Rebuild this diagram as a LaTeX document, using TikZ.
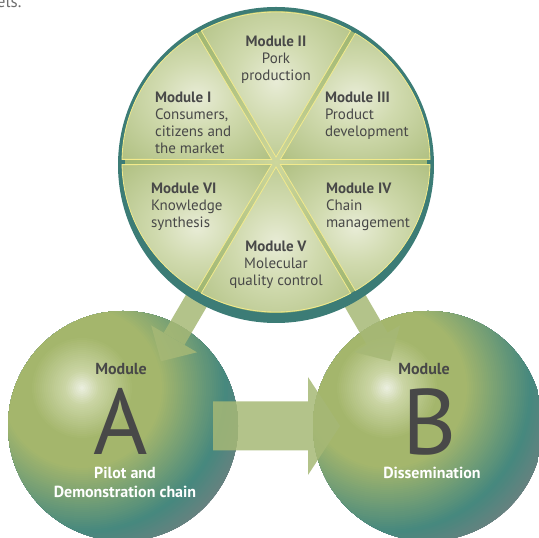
\documentclass[tikz,border=0pt]{standalone}
\usepackage{fontspec}
\setmainfont{PT Sans}
\usetikzlibrary{arrows.meta,calc}

\definecolor{rimteal}{RGB}{60,124,118}
\definecolor{rimmid}{RGB}{92,142,112}
\definecolor{diskgreen}{RGB}{204,214,156}
\definecolor{diskmid}{RGB}{150,176,106}
\definecolor{seglight}{RGB}{232,236,214}
\definecolor{segsoft}{RGB}{208,218,174}
\definecolor{segdark}{RGB}{166,184,116}
\definecolor{segline}{RGB}{242,234,140}
\definecolor{sphlight}{RGB}{238,241,228}
\definecolor{sphsoft}{RGB}{202,213,164}
\definecolor{sphgreen}{RGB}{164,182,108}
\definecolor{sphteal}{RGB}{70,136,126}
\definecolor{sphgrey}{RGB}{112,128,128}
\definecolor{arrowgreen}{RGB}{166,184,118}
\definecolor{textgrey}{RGB}{72,72,72}

\pgfdeclareradialshading{diskgrad}{\pgfpointorigin}{color(0bp)=(diskgreen); color(30bp)=(diskmid); color(50bp)=(rimmid)}
\pgfdeclareradialshading{segglow}{\pgfpointorigin}{color(0bp)=(seglight); color(14bp)=(segsoft); color(42bp)=(segdark); color(50bp)=(segdark)}

% colour of the sphere at a distance #1 from its highlight
\newcommand{\sphcol}[1]{%
	\ifdim #1pt>145pt
		\pgfmathsetmacro\pp{max(0,min(100,(180-#1)*100/35))}\colorlet{sphc}{sphteal!\pp!sphgrey}%
	\else\ifdim #1pt>80pt
		\pgfmathsetmacro\pp{(145-#1)*100/65}\colorlet{sphc}{sphgreen!\pp!sphteal}%
	\else\ifdim #1pt>52pt
		\colorlet{sphc}{sphgreen}%
	\else\ifdim #1pt>18pt
		\pgfmathsetmacro\pp{(52-#1)*100/34}\colorlet{sphc}{sphsoft!\pp!sphgreen}%
	\else
		\pgfmathsetmacro\pp{(18-#1)*100/18}\colorlet{sphc}{sphlight!\pp!sphsoft}%
	\fi\fi\fi\fi}

\begin{document}
\begin{tikzpicture}[x=1pt,y=1pt]
	\tikzset{every node/.style={inner sep=0pt,outer sep=0pt,text=textgrey},
		sphere/.style={circle,minimum size=230pt},
		seglabel/.style={font=\fontsize{15}{16.8}\selectfont},
		sphlabel/.style={font=\fontsize{16}{19}\selectfont\bfseries},
		bigletter/.style={font=\fontsize{93}{93}\selectfont,anchor=base,text height=66pt,text depth=0pt},
		fatarrow/.style={draw=arrowgreen,line width=#1}}
	\clip (0,0) rectangle (539,538);
	\node[anchor=base west,font=\fontsize{17}{17}\selectfont,text=textgrey!80] (cut) at (-3,530) {els.};
	% spheres
	\node[sphere] (A) at (123,112) {};
	\node[sphere] (B) at (428,112) {};
	\foreach \s in {A,B}{
		\begin{scope}
			\clip (\s.center) circle[radius=115pt];
			\foreach \r in {190,188,...,2}{
				\sphcol{\r}
				\fill[sphc] ($(\s.center)+(-41,38)$) circle[radius=\r pt];}
		\end{scope}}
	\node[circle,minimum size=316pt] (disk) at (276,373) {};
	\coordinate (ctr) at (276,376);
	% arrows
	\begin{scope}[transparency group,opacity=.85]
		\draw[fatarrow=24pt,-{Triangle[length=26pt,width=53pt,line width=0pt]},shorten <=100pt,shorten >=75pt] (disk.center)--(A.center);
		\draw[fatarrow=24pt,-{Triangle[length=26pt,width=53pt,line width=0pt]},shorten <=100pt,shorten >=75pt] (disk.center)--(B.center);
		\draw[fatarrow=49pt,-{Triangle[length=32pt,width=98pt,line width=0pt]},shorten <=90pt,shorten >=88pt] (A.center)--(B.center);
	\end{scope}
	% disk
	\fill[rimteal] (disk.center) circle[radius=158pt];
	\shade[shading=diskgrad] (ctr) circle[radius=151pt];
	\foreach \a in {0,60,...,300}
	\shadedraw[shading=segglow,draw=segline,line width=.8pt]
		($(ctr)+(\a+30:5pt)$)--($(ctr)+(\a+1:154pt and 150pt)$)
		arc[start angle=\a+1,end angle=\a+59,x radius=154pt,y radius=150pt]--cycle;
	\node[seglabel,align=left,anchor=west] (sI) at (155,415) {\textbf{Module I}\\Consumers,\\citizens and\\the market};
	\node[seglabel,align=center] (sII) at (276,478) {\textbf{Module II}\\Pork\\production};
	\node[seglabel,align=left,anchor=west] (sIII) at (325,422) {\textbf{Module III}\\Product\\development};
	\node[seglabel,align=left,anchor=west] (sIV) at (326,331) {\textbf{Module IV}\\Chain\\management};
	\node[seglabel,align=center] (sV) at (276,273) {\textbf{Module V}\\Molecular\\quality control};
	\node[seglabel,align=left,anchor=west] (sVI) at (151,331) {\textbf{Module VI}\\Knowledge\\synthesis};
	% sphere texts
	\node[sphlabel] (mA) at (121,169) {Module};
	\node[bigletter] (lA) at (121,83) {A};
	\node[sphlabel,text=white,align=center] (cA) at (125,55.5) {Pilot and\\Demonstration chain};
	\node[sphlabel] (mB) at (424,169) {Module};
	\node[bigletter] (lB) at (430,83) {B};
	\node[sphlabel,text=white] (cB) at (432,65) {Dissemination};
\end{tikzpicture}
\end{document}
